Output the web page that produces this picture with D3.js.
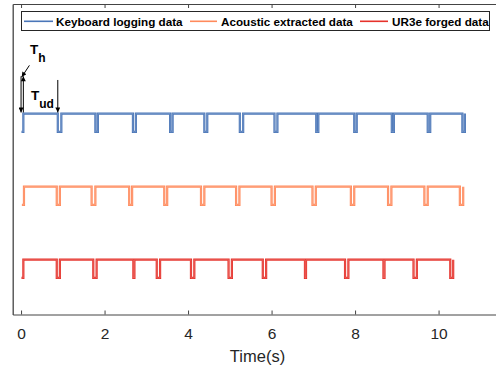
<!DOCTYPE html>
<html>
<head>
<meta charset="utf-8">
<script src="https://cdn.jsdelivr.net/npm/d3@7"></script>
<style>
  html, body { margin: 0; padding: 0; background: #fff; }
  svg { display: block; font-family: "Liberation Sans", Arial, Helvetica, sans-serif; }
</style>
</head>
<body>
<svg id="chart" width="496" height="373"></svg>
<script>
// ---- data (seconds) ----
const xTicks = [0, 2, 4, 6, 8, 10];
const seriesNames = ["Keyboard logging data", "Acoustic extracted data", "UR3e forged data"];
const seriesColors = ["#4a76b8", "#ff8a5c", "#e6322b"];
const seriesBase = [2, 1, 0];      // baseline (low level) of each trace
const pulseHeight = 0.25;

// keyboard logging: start, first rise, then falls/rises
const keyboardStart = 0.01;
const keyboardFirstRise = 0.055;
const keyboardFall = [0.88, 1.78, 2.68, 3.57, 4.39, 5.24, 6.07, 7.07, 7.98, 8.88, 9.74, 10.57];
const keyboardRise = [0.965, 1.84, 2.75, 3.63, 4.46, 5.32, 6.14, 7.12, 8.04, 8.93, 9.80, 10.63];

// acoustic extracted
const acousticStart = 0.02;
const acousticFirstRise = 0.07;
const acousticFall = [0.855, 1.69, 2.59, 3.43, 4.31, 5.15, 6.00, 6.98, 7.90, 8.79, 9.66, 10.51];
const acousticRise = [0.93, 1.78, 2.66, 3.50, 4.39, 5.23, 6.08, 7.06, 7.98, 8.87, 9.74, 10.59];

// UR3e forged
const forgedStart = 0.01;
const forgedFirstRise = 0.055;
const forgedFall = [0.855, 1.73, 2.69, 3.25, 4.07, 4.97, 5.79, 6.80, 7.76, 8.68, 9.40, 10.28];
const forgedRise = [0.93, 1.81, 2.715, 3.33, 4.15, 5.05, 5.87, 6.825, 7.84, 8.705, 9.48, 10.35];

// ---- scales ----
const svg = d3.select("#chart");
const x = d3.scaleLinear().domain([-0.2, 11.5]).range([12.7, 501.2]);
const y = d3.scaleLinear().domain([-0.5, 3.75]).range([314.5, 4]);

const axisColor = "#444";

// ---- traces ----
function buildSteps(start, firstRise, falls, rises, base) {
  const lo = base, hi = base + pulseHeight;
  const pts = [[start, lo], [firstRise, lo], [firstRise, hi]];
  falls.forEach((f, i) => {
    pts.push([f, hi], [f, lo], [rises[i], lo], [rises[i], hi]);
  });
  return pts;
}
const traces = [
  buildSteps(keyboardStart, keyboardFirstRise, keyboardFall, keyboardRise, seriesBase[0]),
  buildSteps(acousticStart, acousticFirstRise, acousticFall, acousticRise, seriesBase[1]),
  buildSteps(forgedStart, forgedFirstRise, forgedFall, forgedRise, seriesBase[2])
];
const line = d3.line().x(d => x(d[0])).y(d => y(d[1]));

const g = svg.append("g");
traces.forEach((pts, i) => {
  g.append("path").attr("d", line(pts)).attr("fill", "none")
    .attr("stroke", seriesColors[i]).attr("stroke-width", 2.2)
    .attr("stroke-linejoin", "miter");
  g.append("path").attr("d", line(pts)).attr("fill", "none")
    .attr("stroke", "#fff").attr("stroke-opacity", 0.28).attr("stroke-width", 0.7);
});

// ---- axes ----
const xAxis = d3.axisBottom(x).tickValues(xTicks).tickSizeInner(-4).tickSizeOuter(0).tickPadding(13.5);
const gx = svg.append("g").attr("transform", `translate(0,${y(-0.5)})`).call(xAxis);
gx.select(".domain").attr("stroke", axisColor);
gx.selectAll(".tick line").attr("stroke", axisColor);
gx.selectAll(".tick text").attr("fill", "#262626").style("font-size", "15.5px")
  .style("font-family", "Liberation Sans, Arial, sans-serif");

const xTop = d3.axisTop(x).tickValues(xTicks).tickSizeInner(-4).tickSizeOuter(0).tickFormat("");
const gt = svg.append("g").attr("transform", `translate(0,${y(3.75)})`).call(xTop);
gt.select(".domain").attr("stroke", axisColor);
gt.selectAll(".tick line").attr("stroke", axisColor);

const yAxis = d3.axisLeft(y).tickValues([]).tickSizeOuter(0);
const gy = svg.append("g").attr("transform", `translate(${x(-0.2)},0)`).call(yAxis);
gy.select(".domain").attr("stroke", axisColor).attr("stroke-width", 1.3);

svg.append("text").attr("x", 257.5).attr("y", 361.5).attr("text-anchor", "middle")
  .attr("fill", "#262626").style("font-size", "16.5px").text("Time(s)");

// ---- legend ----
const leg = svg.append("g");
leg.append("rect").attr("x", 21.5).attr("y", 11.5).attr("width", 468).attr("height", 19)
  .attr("fill", "#fff").attr("stroke", "#262626").attr("stroke-width", 1);
const legLineX = [[24, 53], [190, 217], [360, 388]];
const legTextX = [56, 221, 392];
seriesNames.forEach((name, i) => {
  leg.append("line").attr("x1", legLineX[i][0]).attr("x2", legLineX[i][1])
    .attr("y1", 21.3).attr("y2", 21.3).attr("stroke", seriesColors[i]).attr("stroke-width", 1.6);
  leg.append("text").attr("x", legTextX[i]).attr("y", 25.7)
    .attr("fill", "#000").style("font-size", "11.7px").style("font-weight", "bold").text(name);
});

// ---- annotations ----
svg.append("defs").append("marker").attr("id", "ah")
  .attr("viewBox", "0 0 10 10").attr("refX", 10).attr("refY", 5)
  .attr("markerWidth", 6).attr("markerHeight", 5).attr("markerUnits", "userSpaceOnUse")
  .attr("orient", "auto")
  .append("path").attr("d", "M0,0 L10,5 L0,10 z").attr("fill", "#000");

const arrows = [
  [[0.2, 2.91], [0.015, 2.75]],     // T_h pointer
  [[0.0, 2.76], [0.0, 2.265]],      // down arrow
  [[0.055, 2.265], [0.055, 2.76]],  // up arrow
  [[0.88, 2.71], [0.88, 2.265]]     // T_ud arrow
];
arrows.forEach(a => {
  svg.append("line").attr("x1", x(a[0][0])).attr("y1", y(a[0][1]))
    .attr("x2", x(a[1][0])).attr("y2", y(a[1][1]))
    .attr("stroke", "#000").attr("stroke-width", 1).attr("marker-end", "url(#ah)");
});

const th = svg.append("text").attr("x", 30).attr("y", 53.5).attr("fill", "#000")
  .style("font-weight", "bold").style("font-size", "13.5px");
th.append("tspan").text("T");
th.append("tspan").attr("dy", 8).style("font-size", "12px").text("h");

const tud = svg.append("text").attr("x", 31).attr("y", 100).attr("fill", "#000")
  .style("font-weight", "bold").style("font-size", "13.5px");
tud.append("tspan").text("T");
tud.append("tspan").attr("dy", 7.5).style("font-size", "12px").text("ud");
</script>
</body>
</html>
